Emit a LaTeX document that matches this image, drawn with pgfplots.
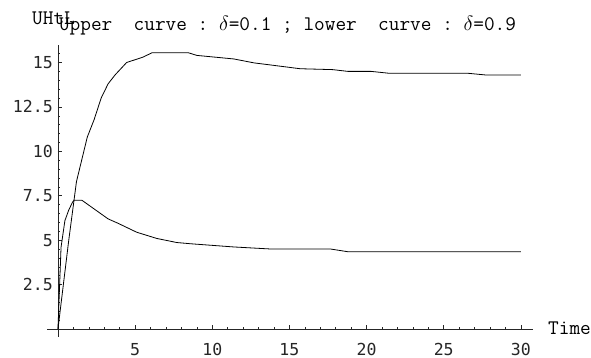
\documentclass[border=0pt]{standalone}
\usepackage{pgfplots}
\pgfplotsset{compat=1.18}
\usepackage{fontspec}
\newfontfamily\ticksfont{DejaVu Sans Mono}
\begin{document}
\begin{tikzpicture}
\begin{axis}[
  at={(47bp,21.3bp)}, anchor=south west,
  scale only axis,
  width=485.9bp, height=291.6bp,
  xmin=-0.71, xmax=30.78, ymin=-0.43, ymax=15.98,
  axis lines=middle,
  axis line style={-, black!85, line width=0.7bp},
  every inner x axis line/.append style={-},
  every inner y axis line/.append style={-},
  tick align=inside,
  major tick length=4bp, minor tick length=2.5bp,
  tick style={black!85, line width=0.6bp},
  xtick={5,10,...,30},
  ytick={2.5,5,7.5,10,12.5,15},
  minor xtick={1,2,...,30},
  minor ytick={0.5,1,...,15.5},
  /pgf/number format/assume math mode=true,
  ticklabel style={font=\ticksfont\fontsize{16.6}{18}\selectfont, text=black!85},
  xticklabel style={anchor=base, inner sep=0pt, yshift=-26bp},
  yticklabel style={anchor=east, inner sep=0pt, xshift=-5bp},
  clip=false,
]
\addplot[black, line width=0.8bp] coordinates {
(0,0) (0.7,5.0) (1.2,8.3) (1.9,10.8) (2.35,11.8) (2.8,13.0) (3.25,13.8) (3.7,14.3) (4.45,15.0) (5.5,15.3) (6.1,15.55) (8.45,15.55) (9.0,15.4) (11.4,15.2) (12.7,14.98) (15.7,14.65) (17.8,14.6) (18.8,14.5) (20.3,14.5) (21.4,14.4) (26.5,14.4) (27.7,14.3) (30,14.3)
};
\addplot[black, line width=0.8bp] coordinates {
(0,0) (0.2,4.6) (0.45,6.1) (0.7,6.7) (0.95,7.15) (1.05,7.25) (1.55,7.25) (3.25,6.2) (3.9,5.95) (5.1,5.45) (6.4,5.1) (7.7,4.87) (8.6,4.8) (11.4,4.62) (13.9,4.5) (17.7,4.5) (18.8,4.35) (30,4.35)
};
\end{axis}
\pgfresetboundingbox
\path (0,0) rectangle (591bp,358bp);
\node[anchor=base, inner sep=0pt, font=\ttfamily\fontsize{20.8}{22}\selectfont] at (287.5bp,327bp)
  {Upper\ \ curve\ :\ $\delta$=0.1\ ;\ lower\ \ curve\ :\ $\delta$=0.9};
\node[anchor=base west, inner sep=0pt, font=\ttfamily\fontsize{20.8}{22}\selectfont] at (32bp,333bp) {UHtL};
\node[anchor=base west, inner sep=0pt, font=\ttfamily\fontsize{20.8}{22}\selectfont] at (548bp,24bp) {Time};
\end{tikzpicture}
\end{document}
